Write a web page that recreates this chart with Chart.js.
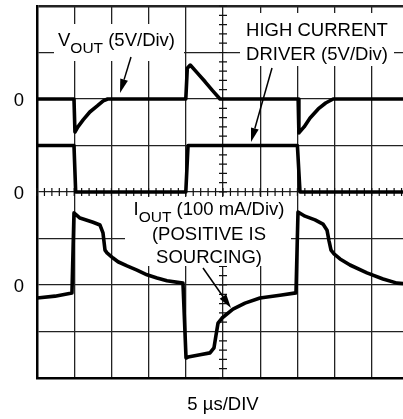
<!DOCTYPE html>
<html>
<head>
<meta charset="utf-8">
<script src="https://cdn.jsdelivr.net/npm/chart.js@4.4.1/dist/chart.umd.min.js"></script>
<style>
  html, body { margin: 0; padding: 0; background: #fff; overflow: hidden; }
  #wrap { width: 412px; height: 419px; position: relative; }
</style>
</head>
<body>
<div id="wrap"><canvas id="scope"></canvas></div>
<script>
// scope settings
const US_PER_DIV = 5;
const VOUT_V_PER_DIV = 5;
const DRIVER_V_PER_DIV = 5;
const IOUT_MA_PER_DIV = 100;

// where each trace's zero sits, in divisions from screen centre
const voutZeroDiv = 2;
const driverZeroDiv = 0;
const ioutZeroDiv = -2;
const zeroLevels = [voutZeroDiv, driverZeroDiv, ioutZeroDiv];
const zeroLabel = '0';
const timeLabel = '5 \u00b5s/DIV';

// V_OUT (volts)
const voutTimeUs = [0, 4.97, 5.1, 5.5, 6.2, 7.1, 8.1, 8.9, 9.5, 20.0, 20.2, 20.6, 21.6, 22.6, 23.6, 24.6,
  35.1, 35.2, 35.9, 36.7, 37.8, 38.8, 39.8, 50];
const voutVolts = [0, 0, -3.55, -3.0, -2.25, -1.4, -0.75, -0.2, 0, 0, 3.3, 3.65, 2.75, 1.85, 0.9, 0,
  0, -3.65, -3.0, -2.05, -1.07, -0.43, 0, 0];

// high current driver (volts)
const driverTimeUs = [0, 4.97, 5.2, 20.0, 20.3, 35.0, 35.35, 50];
const driverVolts = [5, 5, 0, 0, 5, 5, 0, 0];

// I_OUT (mA, positive is sourcing)
const ioutTimeUs = [0, 2.42, 4.70, 4.97, 5.78, 7.53, 8.47, 8.87, 9.14, 9.41, 10.22, 10.89, 12.10, 13.44,
  14.78, 16.13, 17.47, 19.62, 20.03, 20.30, 21.91, 23.25, 23.79, 24.06, 24.33, 24.87, 26.34, 27.96, 29.97,
  32.66, 34.81, 35.08, 36.02, 37.37, 38.44, 38.98, 39.25, 39.52, 39.92, 40.73, 42.07, 44.35, 46.51, 48.39, 50];
const ioutMilliamps = [-28, -24, -17, 155, 144, 135, 129, 112, 75, 69, 58, 50, 41, 32,
  22, 15, 9, 4, -157, -155, -150, -146, -135, -108, -82, -71, -52, -39, -28,
  -22, -17, 157, 148, 140, 131, 118, 95, 75, 67, 56, 43, 26, 13, 4, 2];

const FONT = '"Liberation Sans", Arial, Helvetica, sans-serif';

function toPoints(times, values, perDiv, zeroDiv) {
  return times.map((t, i) => ({ x: t, y: zeroDiv + values[i] / perDiv }));
}

function trace(data) {
  return {
    data: data,
    showLine: true,
    borderColor: '#000',
    borderWidth: 3.6,
    borderJoinStyle: 'round',
    borderCapStyle: 'round',
    pointRadius: 0,
    tension: 0
  };
}

function arrow(ctx, x1, y1, x2, y2) {
  const ang = Math.atan2(y2 - y1, x2 - x1);
  const len = 14, half = 4;
  const bx = x2 - len * Math.cos(ang), by = y2 - len * Math.sin(ang);
  ctx.beginPath();
  ctx.moveTo(x1, y1);
  ctx.lineTo(bx, by);
  ctx.lineWidth = 1.5;
  ctx.stroke();
  ctx.beginPath();
  ctx.moveTo(x2, y2);
  ctx.lineTo(bx + half * Math.sin(ang), by - half * Math.cos(ang));
  ctx.lineTo(bx - half * Math.sin(ang), by + half * Math.cos(ang));
  ctx.closePath();
  ctx.fill();
}

// draws text with a subscript run, returns total width
function subText(ctx, parts, x, y, measureOnly) {
  let w = 0;
  parts.forEach(p => {
    ctx.font = (p.sub ? '15.5px ' : '18.5px ') + FONT;
    if (!measureOnly) ctx.fillText(p.t, x + w, y + (p.sub ? 7 : 0));
    w += ctx.measureText(p.t).width;
  });
  return w;
}

const scopeOverlay = {
  id: 'scopeOverlay',
  beforeDatasetsDraw(chart) {
    const ctx = chart.ctx;
    const xs = chart.scales.x, ys = chart.scales.y;
    const cx = xs.getPixelForValue(5 * US_PER_DIV);
    const cy = ys.getPixelForValue(0);
    ctx.save();
    ctx.strokeStyle = '#111';
    ctx.lineWidth = 1.2;
    ctx.beginPath();
    for (let t = 0; t <= 10 * US_PER_DIV; t += US_PER_DIV / 5) {
      const px = xs.getPixelForValue(t);
      ctx.moveTo(px, cy - 4);
      ctx.lineTo(px, cy + 4);
    }
    for (let j = -20; j <= 20; j++) {
      const py = ys.getPixelForValue(j / 5);
      ctx.moveTo(cx - 4, py);
      ctx.lineTo(cx + 4, py);
    }
    ctx.stroke();

    // blank areas behind the annotations
    ctx.fillStyle = '#fff';
    ctx.fillRect(54, 24, 130, 37);
    ctx.fillRect(240, 13, 154, 53);
    ctx.fillRect(125, 197, 166, 69);
    ctx.restore();
  },
  afterDatasetsDraw(chart) {
    const ctx = chart.ctx;
    const ys = chart.scales.y;
    ctx.save();
    ctx.fillStyle = '#000';
    ctx.strokeStyle = '#000';
    ctx.textBaseline = 'alphabetic';

    // zero markers on the left
    ctx.font = '18.5px ' + FONT;
    ctx.textAlign = 'right';
    zeroLevels.forEach(v => {
      ctx.fillText(zeroLabel, 24, ys.getPixelForValue(v) + 7);
    });

    ctx.textAlign = 'left';
    subText(ctx, [{ t: 'V' }, { t: 'OUT', sub: true }, { t: ' (5V/Div)' }], 58, 45.5);

    ctx.textAlign = 'center';
    ctx.font = '18.5px ' + FONT;
    ctx.fillText('HIGH CURRENT', 317, 36);
    ctx.fillText('DRIVER (5V/Div)', 317, 60);

    ctx.textAlign = 'left';
    const iParts = [{ t: 'I' }, { t: 'OUT', sub: true }, { t: ' (100 mA/Div)' }];
    const w = subText(ctx, iParts, 0, 0, true);
    subText(ctx, iParts, 209 - w / 2, 215);
    ctx.textAlign = 'center';
    ctx.font = '18.5px ' + FONT;
    ctx.fillText('(POSITIVE IS', 209, 240);
    ctx.fillText('SOURCING)', 209, 263);

    arrow(ctx, 131, 57, 120, 93);
    arrow(ctx, 272, 68, 251, 142);
    arrow(ctx, 203, 268, 231, 308);
    ctx.restore();
  }
};

const frameWidth = ctx => (ctx.tick && ctx.tick.value === 4 ? 2.5 : 1.3);

new Chart(document.getElementById('scope'), {
  type: 'scatter',
  data: {
    datasets: [
      trace(toPoints(voutTimeUs, voutVolts, VOUT_V_PER_DIV, voutZeroDiv)),
      trace(toPoints(driverTimeUs, driverVolts, DRIVER_V_PER_DIV, driverZeroDiv)),
      trace(toPoints(ioutTimeUs, ioutMilliamps, IOUT_MA_PER_DIV, ioutZeroDiv))
    ]
  },
  options: {
    responsive: true,
    maintainAspectRatio: false,
    animation: false,
    layout: { padding: { left: 37, top: 6, right: 3, bottom: 0 } },
    plugins: { legend: { display: false }, tooltip: { enabled: false } },
    scales: {
      x: {
        type: 'linear',
        min: 0,
        max: 10 * US_PER_DIV,
        ticks: { display: false, stepSize: US_PER_DIV },
        grid: { color: '#222', lineWidth: 1.3, drawTicks: false },
        border: { display: true, color: '#000', width: 2.5 },
        title: {
          display: true,
          text: timeLabel,
          color: '#000',
          font: { family: FONT, size: 18.5 },
          padding: { top: 15.8, bottom: 3 }
        }
      },
      y: {
        type: 'linear',
        min: -4,
        max: 4,
        ticks: { display: false, stepSize: 1 },
        grid: { color: '#222', lineWidth: frameWidth, drawTicks: false },
        border: { display: true, color: '#000', width: 2.5 }
      }
    }
  },
  plugins: [scopeOverlay]
});
</script>
</body>
</html>
